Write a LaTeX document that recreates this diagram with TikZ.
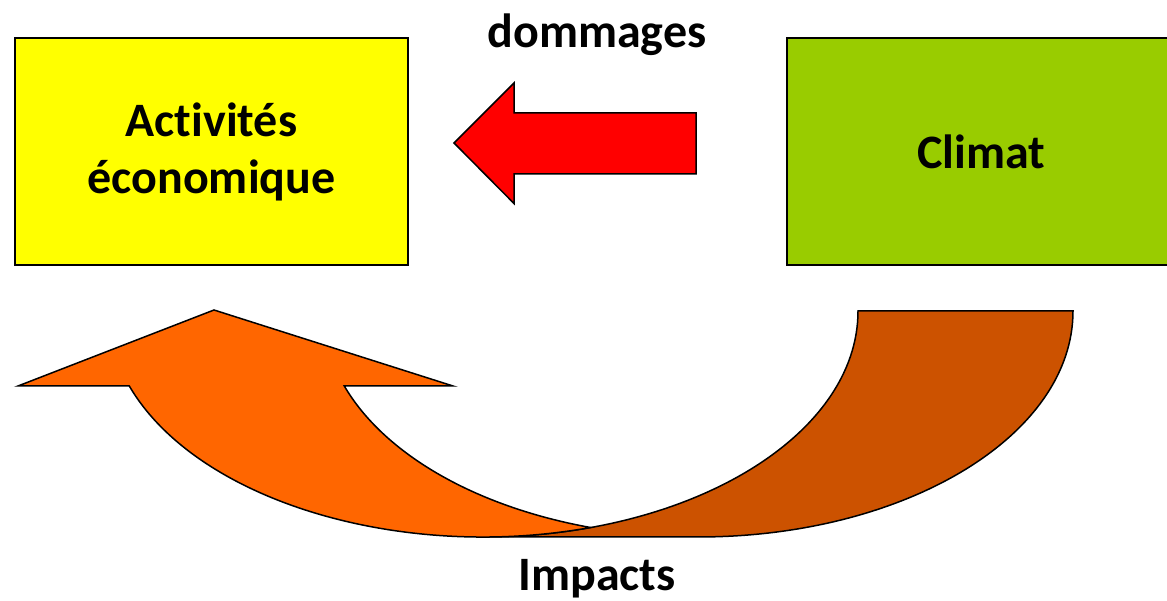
\documentclass[tikz,border=0pt]{standalone}
\usepackage{fontspec}
\setmainfont{Carlito}[Ligatures=NoCommon]
\definecolor{boxyellow}{RGB}{255,255,0}
\definecolor{boxgreen}{RGB}{153,204,0}
\definecolor{arrowred}{RGB}{255,0,0}
\definecolor{arroworange}{RGB}{255,102,0}
\definecolor{arrowbrown}{RGB}{204,82,0}
\begin{document}
\begin{tikzpicture}[x=1pt,y=1pt,
  outline/.style={draw=black,line width=1.5pt,line join=miter},
  bigtext/.style={font=\fontsize{48}{57}\selectfont\bfseries,text=black},
  boxnode/.style={outline,bigtext,minimum width=393pt,minimum height=227pt,inner sep=0pt,align=center}]
\useasboundingbox (0,0) rectangle (1167,601);
\clip (0,0) rectangle (1167,601);

% the two boxes
\node[boxnode,fill=boxyellow] (eco) at (211.5,449.5) {Activités\\économique};
\node[boxnode,fill=boxgreen,minimum width=389pt] (clim) at (981.5,449.5) {Climat};

% straight block arrow: climate -> economy
\path[outline,fill=arrowred] (696,488) -- (514,488) -- (514,518) -- (454,458)
  -- (514,397.5) -- (514,427) -- (696,427) -- cycle;

% curved up arrow, back band (tail)
\path[outline,fill=arrowbrown] (858,290) -- (1073,290)
  arc[start angle=0,end angle=-90,x radius=375pt,y radius=226pt]
  -- (483,64)
  arc[start angle=270,end angle=360,x radius=375pt,y radius=226pt] -- cycle;

% curved up arrow, front band with head
\path[outline,fill=arroworange] (214,291) -- (453,215) -- (344.3,215)
  arc[start angle=199.38,end angle=253.34,x radius=375pt,y radius=226pt]
  arc[start angle=286.66,end angle=199.38,x radius=375pt,y radius=226pt]
  -- (18,215) -- cycle;

% captions
\node[bigtext,anchor=base,inner sep=0pt] (dmg) at (597,553) {dommages};
\node[bigtext,anchor=base,inner sep=0pt] (imp) at (597,10.5) {Impacts};
\end{tikzpicture}
\end{document}
